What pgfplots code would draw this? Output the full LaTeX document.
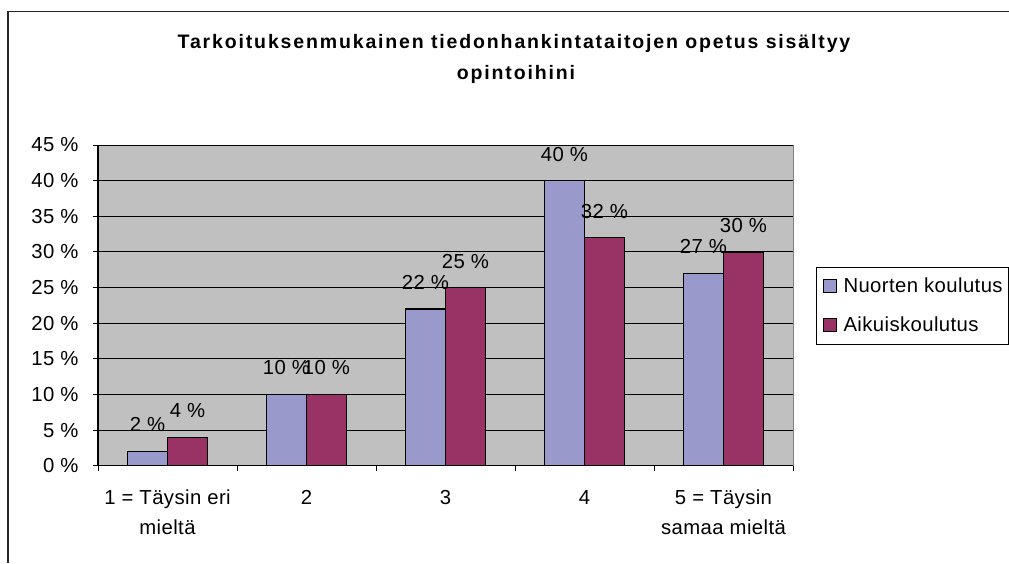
\documentclass[border=0pt]{standalone}
\usepackage{fontspec}
\setmainfont{Liberation Sans}[LetterSpace=2]
\newfontfamily\titlefont{Liberation Sans}[LetterSpace=9.5, BoldFont={Liberation Sans Bold}]
\usepackage{pgfplots}
\pgfplotsset{compat=1.18}
\definecolor{ser1}{HTML}{9999CC}
\definecolor{ser2}{HTML}{993366}
\definecolor{plotbg}{HTML}{C0C0C0}
\newcommand\lbl{\fontsize{20.3}{30}\selectfont}
\begin{document}
\begin{tikzpicture}[x=1pt,y=1pt]
\path[use as bounding box] (0,0) rectangle (1009,563);
\draw[line width=1.2pt, black!85] (8,0) -- (8,551.3) -- (1009,551.3);
\node[anchor=base, inner sep=0pt, font=\titlefont\bfseries\fontsize{19.5}{22}\selectfont] at (514,514) {Tarkoituksenmukainen tiedonhankintataitojen opetus sisältyy};
\node[anchor=base, inner sep=0pt, font=\titlefont\bfseries\fontsize{19.5}{22}\selectfont] at (516,483) {opintoihini};
\begin{axis}[
  at={(98pt,97.3pt)}, anchor=south west,
  width=695pt, height=320.7pt, scale only axis,
  xmin=0.5, xmax=5.5, ymin=0, ymax=45,
  /pgf/number format/assume math mode=true,
  ybar=0pt, bar width=40pt,
  axis background/.style={fill=plotbg, draw=black!50, line width=1pt},
  axis x line*=bottom, axis y line*=left,
  axis line style={black, line width=1.2pt},
  tick align=outside,
  major tick length=5pt, minor tick length=5pt,
  tick style={black, line width=1pt},
  xtick={1,2,3,4,5},
  xticklabels={{1 = Täysin eri\\mieltä},2,3,4,{5 = Täysin\\samaa mieltä}},
  major x tick style={draw=none},
  minor xtick={0.5,1.5,2.5,3.5,4.5,5.5},
  xticklabel style={font=\lbl, align=center, yshift=-16pt},
  ytick={0,5,...,45},
  yticklabel={\pgfmathprintnumber{\tick}~\%},
  yticklabel style={font=\lbl, xshift=-11pt},
  ymajorgrids,
  major grid style={black, line width=0.9pt},
  nodes near coords={\pgfmathprintnumber{\pgfplotspointmeta}~\%},
  every node near coord/.append style={anchor=base, yshift=19.5pt, font=\lbl, inner sep=0pt, text=black},
  legend style={at={(axis description cs:1.0331,0.6196)}, anchor=north west,
    draw=black, line width=1pt, fill=white, font=\lbl,
    inner xsep=6pt, inner ysep=12pt, row sep=25pt, column sep=7pt,
    nodes={inner sep=0pt, text height=13pt, text depth=0pt}},
  legend cell align=left,
  legend image code/.code={\draw[#1, draw=black, line width=1pt] (0pt,-6.5pt) rectangle (13pt,6.5pt);},
]
\addplot[fill=ser1, draw=black, line width=1.2pt] coordinates {(1,2) (2,10) (3,22) (4,40) (5,27)};
\addplot[fill=ser2, draw=black, line width=1.2pt] coordinates {(1,4) (2,10) (3,25) (4,32) (5,30)};
\legend{Nuorten koulutus, Aikuiskoulutus}
\end{axis}
\end{tikzpicture}
\end{document}
